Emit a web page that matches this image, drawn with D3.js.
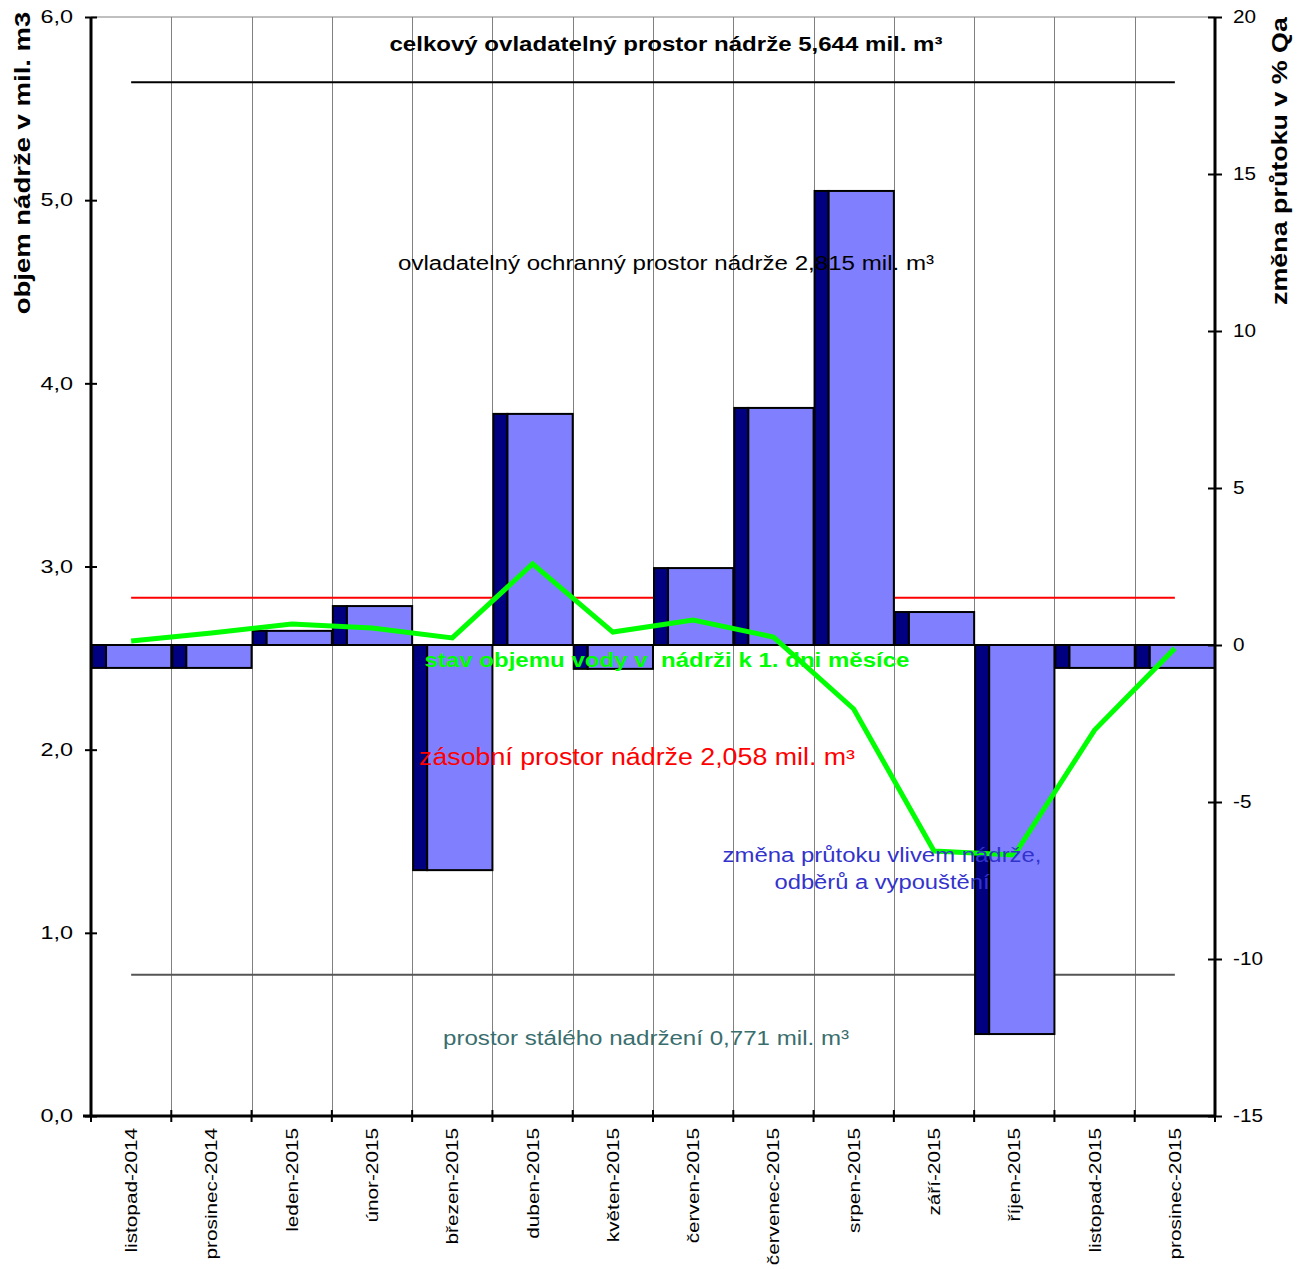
<!DOCTYPE html>
<html><head><meta charset="utf-8">
<script src="https://cdn.jsdelivr.net/npm/d3@7"></script>
<style>
body{margin:0;background:#fff}
text{font-family:"Liberation Sans",Arial,sans-serif}
</style>
</head><body>
<svg id="c" width="1305" height="1269"></svg>
<script>
const categories = ["listopad-2014","prosinec-2014","leden-2015","únor-2015","březen-2015","duben-2015","květen-2015","červen-2015","červenec-2015","srpen-2015","září-2015","říjen-2015","listopad-2015","prosinec-2015"];
// změna průtoku v % Qa (right axis)
const flowChange = [-0.73,-0.73,0.45,1.24,-7.17,7.36,-0.76,2.45,7.55,14.46,1.05,-12.39,-0.73,-0.73];
// stav objemu vody v nádrži k 1. dni měsíce (left axis, mil. m3)
const volume = [2.593,2.637,2.686,2.664,2.610,3.014,2.642,2.708,2.615,2.222,1.447,1.425,2.107,2.553];
// reference levels (mil. m3): total controllable, storage top, dead storage
const refLevels = [5.644, 2.829, 0.771];
const refColors = ["#000000","#ff0000","#555555"];
const leftTicks = [0,1,2,3,4,5,6];
const rightTicks = [-15,-10,-5,0,5,10,15,20];

const svg = d3.select("#c");
const L = 91, R = 1215, T = 17, B = 1116;
const x = d3.scaleBand().domain(categories).range([L, R]).padding(0);
const yL = d3.scaleLinear().domain([0, 6]).range([B, T]);
const yR = d3.scaleLinear().domain([-15, 20]).range([B, T]);
const bw = x.bandwidth();

function stretch(sel, f) {
  sel.each(function() {
    const l = this.getComputedTextLength();
    d3.select(this).attr("textLength", l * f).attr("lengthAdjust", "spacingAndGlyphs");
  });
}

// grid
const g = svg.append("g");
g.append("line").attr("x1", L).attr("x2", R).attr("y1", T).attr("y2", T).attr("stroke", "#808080").attr("stroke-width", 1);
categories.slice(1).forEach(c => {
  g.append("line").attr("x1", Math.round(x(c)) + 0.5).attr("x2", Math.round(x(c)) + 0.5)
    .attr("y1", T).attr("y2", B).attr("stroke", "#808080").attr("stroke-width", 1);
});

// reference lines
const xFirst = x(categories[0]) + bw / 2, xLast = x(categories[categories.length - 1]) + bw / 2;
refLevels.forEach((v, i) => {
  svg.append("line").attr("x1", xFirst).attr("x2", xLast).attr("y1", yL(v)).attr("y2", yL(v))
    .attr("stroke", refColors[i]).attr("stroke-width", 2);
});

// bars (pseudo-3D)
const depth = bw * 0.175;
const bars = svg.append("g");
categories.forEach((c, i) => {
  const v = flowChange[i];
  const y0 = yR(Math.max(v, 0)), y1 = yR(Math.min(v, 0));
  const x0 = x(c);
  bars.append("rect").attr("x", x0 + 1).attr("y", y0).attr("width", depth).attr("height", y1 - y0)
    .attr("fill", "#000080").attr("stroke", "#000").attr("stroke-width", 2);
  bars.append("rect").attr("x", x0 + 1 + depth).attr("y", y0).attr("width", bw - depth - 1).attr("height", y1 - y0)
    .attr("fill", "#8080ff").attr("stroke", "#000").attr("stroke-width", 2);
});

// green line
svg.append("path").datum(volume)
  .attr("d", d3.line().x((d, i) => x(categories[i]) + bw / 2).y(d => yL(d)))
  .attr("fill", "none").attr("stroke", "#00ff00").attr("stroke-width", 5).attr("stroke-linejoin", "miter");

// axes
const fmtL = d => d3.format(".1f")(d).replace(".", ",");
const fmtR = d => String(d);
const ax = svg.append("g").attr("transform", `translate(${L},0)`)
  .call(d3.axisLeft(yL).tickValues(leftTicks).tickSize(6).tickPadding(12).tickFormat(fmtL));
ax.selectAll(".tick line").attr("x2", -6).attr("x1", 6).attr("stroke-width", 2);
ax.selectAll(".tick text").attr("font-size", 18).attr("font-family", "Liberation Sans, Arial, sans-serif");
stretch(ax.selectAll(".tick text"), 1.3);
ax.select(".domain").attr("d", `M0,${T}V${B}`).attr("stroke-width", 3);

const ar = svg.append("g").attr("transform", `translate(${R},0)`)
  .call(d3.axisRight(yR).tickValues(rightTicks).tickSize(7).tickPadding(11).tickFormat(fmtR));
ar.selectAll(".tick line").attr("x1", -7).attr("x2", 7).attr("stroke-width", 2);
ar.selectAll(".tick text").attr("font-size", 18).attr("font-family", "Liberation Sans, Arial, sans-serif");
stretch(ar.selectAll(".tick text"), 1.15);
ar.select(".domain").attr("d", `M0,${T}V${B}`).attr("stroke-width", 3);

// bottom axis
svg.append("line").attr("x1", L - 8).attr("x2", R + 1).attr("y1", B).attr("y2", B).attr("stroke", "#000").attr("stroke-width", 3);
categories.concat([null]).forEach(c => {
  const xp = c === null ? R : x(c);
  svg.append("line").attr("x1", xp).attr("x2", xp).attr("y1", B - 6).attr("y2", B + 6).attr("stroke", "#000").attr("stroke-width", 2);
});
const xl = svg.append("g");
categories.forEach(c => {
  xl.append("text").attr("transform", `translate(${x(c) + bw / 2 + 6},${B + 12}) rotate(-90)`)
    .attr("text-anchor", "end").attr("font-size", 17).text(c);
});
stretch(xl.selectAll("text"), 1.22);

// axis titles
const t1 = svg.append("text").attr("transform", "translate(30,163) rotate(-90)").attr("text-anchor", "middle")
  .attr("font-size", 22).attr("font-weight", "bold").text("objem nádrže v mil. m3");
stretch(t1, 1.25);
const t2 = svg.append("text").attr("transform", "translate(1287,161) rotate(-90)").attr("text-anchor", "middle")
  .attr("font-size", 22).attr("font-weight", "bold").text("změna průtoku v % Qa");
stretch(t2, 1.22);

// annotations
const ann = [
  {t: "celkový ovladatelný prostor nádrže 5,644 mil. m³", x: 666, y: 51, s: 20, w: "bold", c: "#000", len: 553},
  {t: "ovladatelný ochranný prostor nádrže 2,815 mil. m³", x: 666, y: 270, s: 20, w: "normal", c: "#000", len: 536},
  {t: "stav objemu vody v  nádrži k 1. dni měsíce", x: 667, y: 667, s: 20, w: "bold", c: "#00ff00", len: 485},
  {t: "zásobní prostor nádrže 2,058 mil. m³", x: 637, y: 765, s: 23, w: "normal", c: "#ff0000", len: 436},
  {t: "změna průtoku vlivem nádrže,", x: 882, y: 862, s: 20, w: "normal", c: "#3333cc", len: 319},
  {t: "odběrů a vypouštění", x: 882, y: 889, s: 20, w: "normal", c: "#3333cc", len: 215},
  {t: "prostor stálého nadržení 0,771 mil. m³", x: 646, y: 1045, s: 20, w: "normal", c: "#3a6e6e", len: 406}
];
ann.forEach(a => {
  svg.append("text").attr("x", a.x).attr("y", a.y).attr("text-anchor", "middle")
    .attr("font-size", a.s).attr("font-weight", a.w).attr("fill", a.c)
    .attr("textLength", a.len).attr("lengthAdjust", "spacingAndGlyphs")
    .style("white-space", "pre").text(a.t);
});
</script>
</body></html>
